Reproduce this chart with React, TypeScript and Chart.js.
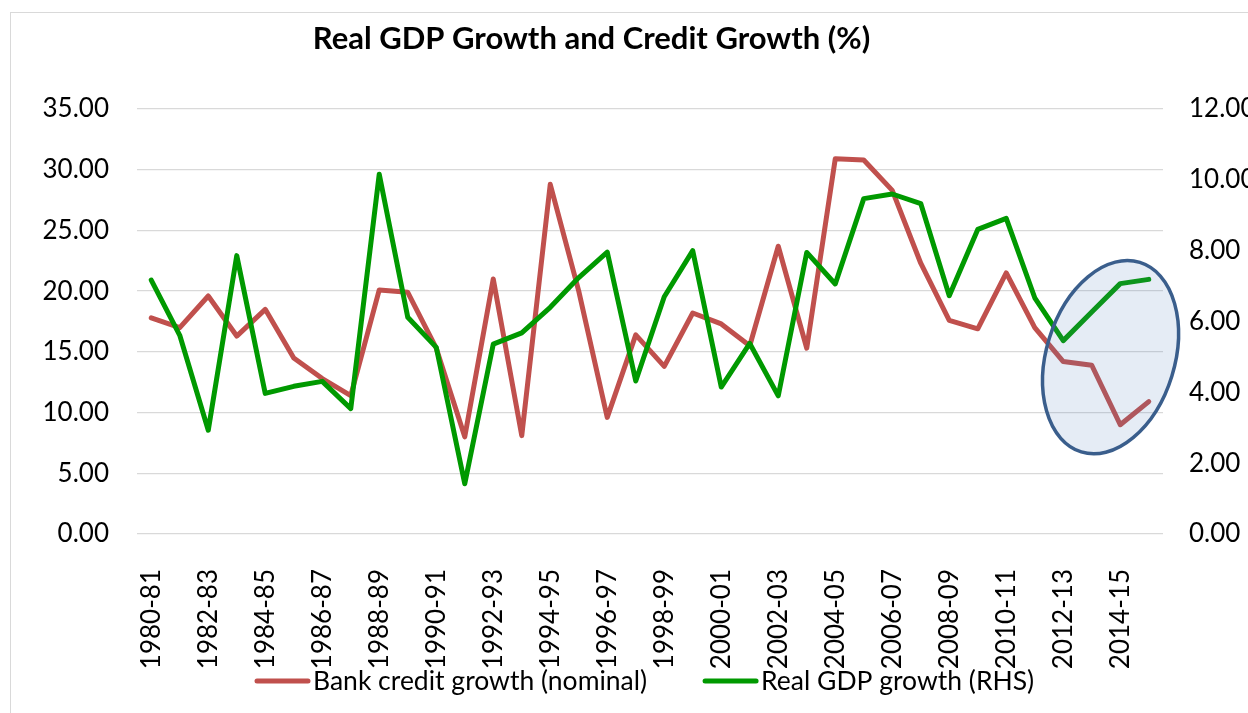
import React, { useEffect, useRef } from "react";
import { Chart, registerables } from "chart.js";

Chart.register(...registerables);

const categories = [
  "1980-81", "1981-82", "1982-83", "1983-84", "1984-85", "1985-86", "1986-87", "1987-88",
  "1988-89", "1989-90", "1990-91", "1991-92", "1992-93", "1993-94", "1994-95", "1995-96",
  "1996-97", "1997-98", "1998-99", "1999-00", "2000-01", "2001-02", "2002-03", "2003-04",
  "2004-05", "2005-06", "2006-07", "2007-08", "2008-09", "2009-10", "2010-11", "2011-12",
  "2012-13", "2013-14", "2014-15", "2015-16",
];

const bankCreditGrowth = [
  17.8, 17.0, 19.6, 16.3, 18.5, 14.5, 12.8, 11.4, 20.1, 19.9, 15.3, 8.0,
  21.0, 8.1, 28.8, 20.0, 9.6, 16.4, 13.8, 18.2, 17.3, 15.5, 23.7, 15.3,
  30.9, 30.8, 28.3, 22.3, 17.6, 16.9, 21.5, 17.0, 14.2, 13.9, 9.0, 10.9,
];

const realGdpGrowth = [
  7.17, 5.61, 2.93, 7.86, 3.97, 4.17, 4.31, 3.54, 10.16, 6.12, 5.27, 1.42,
  5.36, 5.68, 6.40, 7.24, 7.96, 4.32, 6.70, 8.00, 4.15, 5.38, 3.90, 7.95,
  7.06, 9.47, 9.60, 9.33, 6.73, 8.60, 8.91, 6.67, 5.46, 6.27, 7.07, 7.19,
];

const leftTicks = { min: 0, max: 35, step: 5 };
const rightTicks = { min: 0, max: 12, step: 2 };

const titleText = "Real GDP Growth and Credit Growth (%)";
const seriesNames = ["Bank credit growth (nominal)", "Real GDP growth (RHS)"];
const seriesColors = ["#C0504D", "#009900"];

// highlighted region (category index, left-axis value)
const highlightCenter = { index: 33.66, value: 14.56 };

const FONT = "Lato, 'Open Sans', sans-serif";

const decorPlugin = {
  id: "decor",
  beforeDraw(chart: any) {
    const { ctx } = chart;
    ctx.save();
    ctx.fillStyle = "#ffffff";
    ctx.fillRect(0, 0, chart.width, chart.height);
    ctx.strokeStyle = "#D9D9D9";
    ctx.lineWidth = 1;
    ctx.strokeRect(10.5, 12.5, chart.width + 50, chart.height + 50);
    ctx.restore();
  },
  afterDatasetsDraw(chart: any) {
    const { ctx, scales } = chart;
    const x = scales.x;
    const y = scales.y;
    const cx = x.getPixelForValue(highlightCenter.index);
    const cy = y.getPixelForValue(highlightCenter.value);
    const catW = x.getPixelForValue(1) - x.getPixelForValue(0);
    ctx.save();
    ctx.beginPath();
    ctx.ellipse(cx, cy, catW * 2.25, catW * 3.48, 0.30, 0, Math.PI * 2);
    ctx.fillStyle = "rgba(79, 129, 189, 0.15)";
    ctx.fill();
    ctx.strokeStyle = "#3A5E8C";
    ctx.lineWidth = 3.5;
    ctx.stroke();
    ctx.restore();
  },
  afterDraw(chart: any) {
    const { ctx, chartArea } = chart;
    ctx.save();
    // title
    ctx.fillStyle = "#000";
    ctx.font = `bold 31px ${FONT}`;
    ctx.textAlign = "center";
    ctx.textBaseline = "alphabetic";
    ctx.fillText(titleText, 591.5, 49);
    // legend
    const ly = chartArea.bottom + 147;
    ctx.font = `26.5px ${FONT}`;
    ctx.textBaseline = "middle";
    ctx.textAlign = "left";
    let lx = chartArea.left + 118;
    seriesNames.forEach((name, i) => {
      ctx.strokeStyle = seriesColors[i];
      ctx.lineWidth = 5;
      ctx.lineCap = "round";
      ctx.beginPath();
      ctx.moveTo(lx + 2, ly);
      ctx.lineTo(lx + 53, ly);
      ctx.stroke();
      ctx.fillStyle = "#000";
      ctx.fillText(name, lx + 58, ly);
      lx += 58 + ctx.measureText(name).width + 56;
    });
    ctx.restore();
  },
};

export default function App() {
  const canvasRef = useRef<HTMLCanvasElement | null>(null);

  useEffect(() => {
    if (!canvasRef.current) return;
    const chart = new Chart(canvasRef.current, {
      type: "line",
      data: {
        labels: categories,
        datasets: [
          {
            label: seriesNames[0],
            data: bankCreditGrowth,
            borderColor: seriesColors[0],
            backgroundColor: seriesColors[0],
            borderWidth: 5,
            pointRadius: 0,
            tension: 0,
            borderJoinStyle: "round",
            borderCapStyle: "round",
            yAxisID: "y",
            order: 2,
          },
          {
            label: seriesNames[1],
            data: realGdpGrowth,
            borderColor: seriesColors[1],
            backgroundColor: seriesColors[1],
            borderWidth: 5,
            pointRadius: 0,
            tension: 0,
            borderJoinStyle: "round",
            borderCapStyle: "round",
            yAxisID: "y1",
            order: 1,
          },
        ],
      },
      options: {
        animation: false,
        responsive: true,
        maintainAspectRatio: false,
        devicePixelRatio: 1,
        layout: { padding: { top: 109, left: 0, right: 0, bottom: 0 } },
        plugins: {
          legend: { display: false },
          title: { display: false },
          tooltip: { enabled: false },
        },
        scales: {
          x: {
            type: "category",
            offset: true,
            grid: { display: false, drawTicks: false },
            border: { display: false },
            ticks: {
              autoSkip: false,
              minRotation: 90,
              maxRotation: 90,
              padding: 35,
              color: "#000",
              font: { family: FONT, size: 26 },
              callback: (_v: any, i: number) => (i % 2 === 0 ? categories[i] : ""),
            },
            afterFit: (s: any) => {
              s.height = 713 - 534;
            },
          },
          y: {
            position: "left",
            min: leftTicks.min,
            max: leftTicks.max,
            grid: { color: "#D9D9D9", lineWidth: 1.3, drawTicks: false },
            border: { display: false },
            ticks: {
              stepSize: leftTicks.step,
              padding: 28,
              color: "#000",
              font: { family: FONT, size: 26 },
              callback: (v: any) => Number(v).toFixed(2),
            },
            afterFit: (s: any) => {
              s.width = 137;
            },
          },
          y1: {
            position: "right",
            min: rightTicks.min,
            max: rightTicks.max,
            grid: { display: false, drawTicks: false },
            border: { display: false },
            ticks: {
              stepSize: rightTicks.step,
              padding: 26,
              color: "#000",
              font: { family: FONT, size: 26 },
              callback: (v: any) => Number(v).toFixed(2),
            },
            afterFit: (s: any) => {
              s.width = 1300 - 1163;
            },
          },
        },
      },
      plugins: [decorPlugin],
    } as any);
    return () => chart.destroy();
  }, []);

  return (
    <div
      style={{
        position: "fixed",
        left: 0,
        top: 0,
        width: 1248,
        height: 713,
        overflow: "hidden",
        background: "#fff",
      }}
    >
      <div style={{ position: "relative", width: 1300, height: 713 }}>
        <canvas ref={canvasRef} />
      </div>
    </div>
  );
}
